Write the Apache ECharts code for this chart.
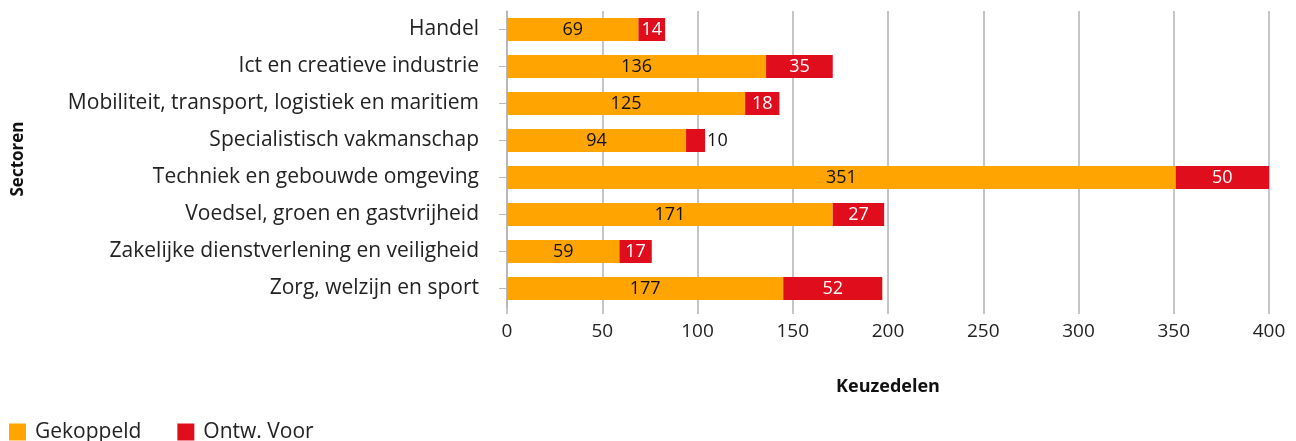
<!DOCTYPE html>
<html>
<head>
<meta charset="utf-8">
<script src="https://cdn.jsdelivr.net/npm/echarts@6/dist/echarts.min.js"></script>
<style>html,body{margin:0;padding:0;background:#fff;}#c{width:1296px;height:441px;}</style>
</head>
<body>
<div id="c"></div>
<script>
const categories = [
  "Handel",
  "Ict en creatieve industrie",
  "Mobiliteit, transport, logistiek en maritiem",
  "Specialistisch vakmanschap",
  "Techniek en gebouwde omgeving",
  "Voedsel, groen en gastvrijheid",
  "Zakelijke dienstverlening en veiligheid",
  "Zorg, welzijn en sport"
];
const gekoppeld = [69, 136, 125, 94, 351, 171, 59, 145];
const gekoppeldLabels = ["69", "136", "125", "94", "351", "171", "59", "177"];
const ontwVoor = [14, 35, 18, 10, 50, 27, 17, 52];
const xTicks = [0, 50, 100, 150, 200, 250, 300, 350, 400];

const FONT = "Open Sans";
const chart = echarts.init(document.getElementById('c'));
chart.setOption({
  animation: false,
  textStyle: { fontFamily: FONT },
  grid: { left: 507, right: 27, top: 11, height: 296, containLabel: false },
  legend: {
    left: 4, top: 416, itemWidth: 17, itemHeight: 17, itemGap: 36,
    icon: 'rect',
    textStyle: { fontSize: 21, color: '#222', fontFamily: FONT, padding: [0, 0, 0, 4], lineHeight: 22 },
    data: ['Gekoppeld', 'Ontw. Voor']
  },
  xAxis: {
    type: 'value', min: xTicks[0], max: xTicks[xTicks.length - 1], interval: 50,
    name: 'Keuzedelen', nameLocation: 'middle', nameGap: 71,
    nameTextStyle: { fontSize: 18, fontWeight: 'bold', color: '#111', fontFamily: FONT },
    axisLine: { show: false },
    axisTick: { show: true, length: 7, lineStyle: { color: '#b3b3b3', width: 1.5 } },
    axisLabel: { fontSize: 19, color: '#222', margin: 15, fontFamily: FONT },
    splitLine: { show: true, lineStyle: { color: '#b3b3b3', width: 1.5 } }
  },
  yAxis: {
    type: 'category', data: categories, inverse: true,
    name: 'Sectoren', nameLocation: 'middle', nameGap: 480, nameRotate: 90,
    nameTextStyle: { fontSize: 17, fontWeight: 'bold', color: '#111', fontFamily: FONT },
    axisLine: { show: true, lineStyle: { color: '#b3b3b3', width: 1.5 } },
    axisTick: { show: true, alignWithLabel: true, length: 8, lineStyle: { color: '#bbb', width: 1 } },
    axisLabel: { fontSize: 21, color: '#222', margin: 28, fontFamily: FONT }
  },
  series: [
    {
      name: 'Gekoppeld', type: 'bar', stack: 'a', barWidth: 23,
      itemStyle: { color: '#FFA400' },
      label: {
        show: true, position: 'inside', fontSize: 18, color: '#111', fontFamily: FONT,
        formatter: p => gekoppeldLabels[p.dataIndex]
      },
      data: gekoppeld
    },
    {
      name: 'Ontw. Voor', type: 'bar', stack: 'a', barWidth: 23,
      itemStyle: { color: '#E00D1D' },
      label: { show: true, position: 'inside', fontSize: 18, color: '#fff', fontFamily: FONT },
      data: ontwVoor.map((v, i) => v < 12 ? { value: v, label: { position: 'right', color: '#111', distance: 2 } } : v)
    }
  ]
});
</script>
</body>
</html>
